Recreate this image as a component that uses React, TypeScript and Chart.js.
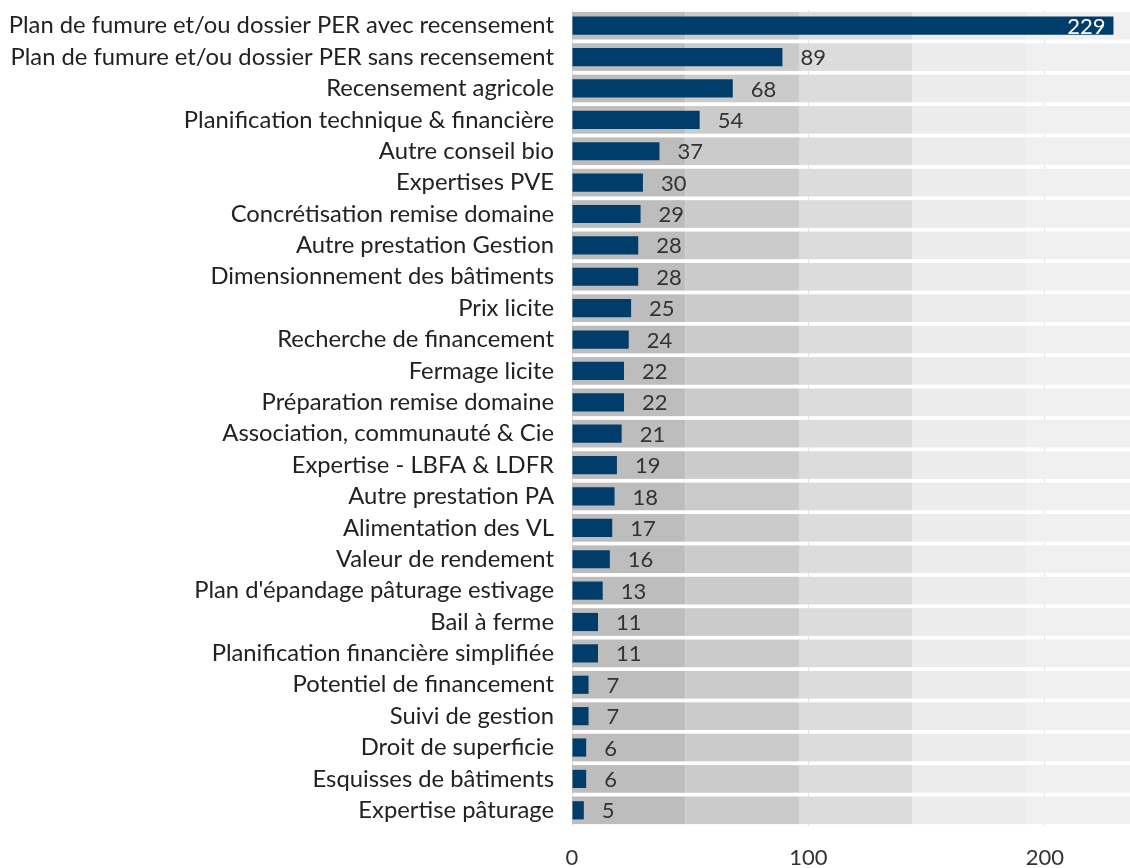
import React, { useEffect, useRef } from "react";
import { Chart, registerables } from "chart.js";

Chart.register(...registerables);

const categories = [
  "Plan de fumure et/ou dossier PER avec recensement",
  "Plan de fumure et/ou dossier PER sans recensement",
  "Recensement agricole",
  "Planification technique & financière",
  "Autre conseil bio",
  "Expertises PVE",
  "Concrétisation remise domaine",
  "Autre prestation Gestion",
  "Dimensionnement des bâtiments",
  "Prix licite",
  "Recherche de financement",
  "Fermage licite",
  "Préparation remise domaine",
  "Association, communauté & Cie",
  "Expertise - LBFA & LDFR",
  "Autre prestation PA",
  "Alimentation des VL",
  "Valeur de rendement",
  "Plan d'épandage pâturage estivage",
  "Bail à ferme",
  "Planification financière simplifiée",
  "Potentiel de financement",
  "Suivi de gestion",
  "Droit de superficie",
  "Esquisses de bâtiments",
  "Expertise pâturage",
];

const values = [229, 89, 68, 54, 37, 30, 29, 28, 28, 25, 24, 22, 22, 21, 19, 18, 17, 16, 13, 11, 11, 7, 7, 6, 6, 5];

const xTicks = [0, 100, 200];
const xMax = 236;
const bandEdges = [0, 48, 96, 144, 192, 236];
const bandColors = ["#bdbdbd", "#cbcbcb", "#dcdcdc", "#ececec", "#f0f0f0"];

const FONT = "Lato, 'Open Sans', sans-serif";

const bandsPlugin = {
  id: "bands",
  beforeDatasetsDraw(chart: any) {
    const { ctx, scales } = chart;
    const x = scales.x;
    const y = scales.y;
    const pitch = Math.abs(y.getPixelForValue(1) - y.getPixelForValue(0));
    const h = pitch * 0.88;
    ctx.save();
    for (let i = 0; i < categories.length; i++) {
      const cy = y.getPixelForValue(i);
      for (let b = 0; b < bandColors.length; b++) {
        const x0 = x.getPixelForValue(bandEdges[b]);
        const x1 = x.getPixelForValue(bandEdges[b + 1]);
        ctx.fillStyle = bandColors[b];
        ctx.fillRect(x0, cy - h / 2, x1 - x0, h);
      }
    }
    ctx.restore();
  },
};

const labelsPlugin = {
  id: "valueLabels",
  afterDatasetsDraw(chart: any) {
    const { ctx, chartArea } = chart;
    const meta = chart.getDatasetMeta(0);
    ctx.save();
    ctx.font = `22px ${FONT}`;
    ctx.textBaseline = "middle";
    meta.data.forEach((el: any, i: number) => {
      const txt = String(values[i]);
      const w = ctx.measureText(txt).width;
      if (el.x + 18 + w > chartArea.right - 2) {
        ctx.fillStyle = "#ffffff";
        ctx.textAlign = "right";
        ctx.fillText(txt, el.x - 8, el.y + 1);
      } else {
        ctx.fillStyle = "#333333";
        ctx.textAlign = "left";
        ctx.fillText(txt, el.x + 18, el.y + 1);
      }
    });
    ctx.restore();
  },
};

export default function App() {
  const ref = useRef<HTMLCanvasElement | null>(null);

  useEffect(() => {
    document.body.style.margin = "0";
    if (!ref.current) return;
    const chart = new Chart(ref.current, {
      type: "bar",
      data: {
        labels: categories,
        datasets: [
          {
            data: values,
            backgroundColor: "#003d6b",
            barPercentage: 0.58,
            categoryPercentage: 1,
          },
        ],
      },
      options: {
        indexAxis: "y",
        animation: false,
        responsive: false,
        maintainAspectRatio: false,
        layout: { padding: { top: 10, right: 0, left: 0, bottom: 0 } },
        plugins: {
          legend: { display: false },
          tooltip: { enabled: false },
        },
        scales: {
          x: {
            min: 0,
            max: xMax,
            afterBuildTicks: (scale: any) => {
              scale.ticks = xTicks.map((v) => ({ value: v }));
            },
            afterFit: (scale: any) => {
              scale.height = 42;
            },
            grid: { color: "#e4e4e4", drawTicks: false, lineWidth: 1 },
            border: { display: false },
            ticks: {
              color: "#333333",
              font: { family: FONT, size: 22 },
              padding: 19,
            },
          },
          y: {
            afterFit: (scale: any) => {
              scale.width = 572;
              scale.paddingTop = 0;
              scale.paddingBottom = 0;
            },
            grid: { display: false, drawTicks: false },
            border: { display: false },
            ticks: {
              color: "#222222",
              font: { family: FONT, size: 23.8 },
              padding: 18,
              autoSkip: false,
            },
          },
        },
      },
      plugins: [bandsPlugin, labelsPlugin],
    });
    return () => chart.destroy();
  }, []);

  return (
    <div style={{ width: 1130, height: 868 }}>
      <canvas ref={ref} width={1130} height={868} style={{ display: "block" }} />
    </div>
  );
}
